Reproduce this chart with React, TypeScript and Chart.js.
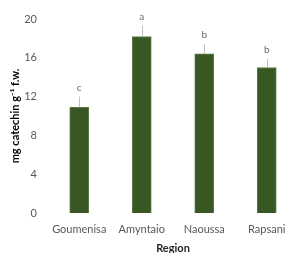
import React, { useEffect, useRef } from "react";
import { Chart, registerables } from "chart.js";

Chart.register(...registerables);

const categories = ["Goumenisa", "Amyntaio", "Naoussa", "Rapsani"];
const values = [10.9, 18.2, 16.4, 15.0];
const errors = [1.1, 1.1, 1.0, 0.9];
const letters = ["c", "a", "b", "b"];
const yTicks = [0, 4, 8, 12, 16, 20];

const errorPlugin = {
  id: "errorBars",
  afterDatasetsDraw(chart: any) {
    const ctx = chart.ctx;
    const meta = chart.getDatasetMeta(0);
    const y = chart.scales.y;
    ctx.save();
    meta.data.forEach((bar: any, i: number) => {
      const top = y.getPixelForValue(values[i] + errors[i]);
      const base = y.getPixelForValue(values[i]);
      ctx.strokeStyle = "#bfbfbf";
      ctx.lineWidth = 1;
      ctx.beginPath();
      ctx.moveTo(Math.round(bar.x) + 0.5, base);
      ctx.lineTo(Math.round(bar.x) + 0.5, top);
      ctx.stroke();
      ctx.fillStyle = "#6b6b6b";
      ctx.font = "10px Lato, sans-serif";
      ctx.textAlign = "center";
      ctx.textBaseline = "bottom";
      ctx.fillText(letters[i], bar.x, top - 4);
    });
    ctx.restore();
  },
};

export default function App() {
  const ref = useRef<HTMLCanvasElement | null>(null);
  useEffect(() => {
    document.body.style.margin = "0";
    const chart = new Chart(ref.current!, {
      type: "bar",
      data: {
        labels: categories,
        datasets: [
          {
            data: values,
            backgroundColor: "#385723",
            borderColor: "#5a7a44",
            borderWidth: 1,
            barThickness: 19,
          },
        ],
      },
      options: {
        animation: false,
        responsive: false,
        layout: { autoPadding: false, padding: { top: 19, right: 2, left: 9, bottom: 0 } },
        plugins: { legend: { display: false }, tooltip: { enabled: false } },
        scales: {
          x: {
            offset: true,
            grid: { display: false, drawTicks: false },
            border: { display: false },
            afterFit: (axis: any) => {
              axis.height = 42;
            },
            ticks: {
              color: "#595959",
              font: { size: 11, family: "Lato, sans-serif" },
              padding: 10,
              maxRotation: 0,
              autoSkip: false,
            },
            title: {
              display: true,
              text: "Region",
              color: "#262626",
              font: { size: 11, weight: "bold", family: "Lato, sans-serif" },
              padding: { top: 0, bottom: 0 },
            },
          },
          y: {
            min: 0,
            max: 20,
            afterBuildTicks: (axis: any) => {
              axis.ticks = yTicks.map((v) => ({ value: v }));
            },
            afterFit: (axis: any) => {
              axis.width = 39;
            },
            grid: { display: false, drawTicks: false },
            border: { display: false },
            ticks: {
              color: "#595959",
              font: { size: 11, family: "Lato, sans-serif" },
              padding: 11,
            },
            title: {
              display: true,
              text: "mg catechin g⁻¹ f.w.",
              color: "#000000",
              font: { size: 11, weight: "bold", family: "Lato, sans-serif" },
              padding: { top: 0, bottom: 1 },
            },
          },
        },
      },
      plugins: [errorPlugin],
    });
    return () => chart.destroy();
  }, []);
  return (
    <div style={{ width: 288, height: 253, overflow: "hidden", position: "relative" }}>
      <canvas ref={ref} width={300} height={255} style={{ position: "absolute", left: 0, top: 0 }} />
    </div>
  );
}
